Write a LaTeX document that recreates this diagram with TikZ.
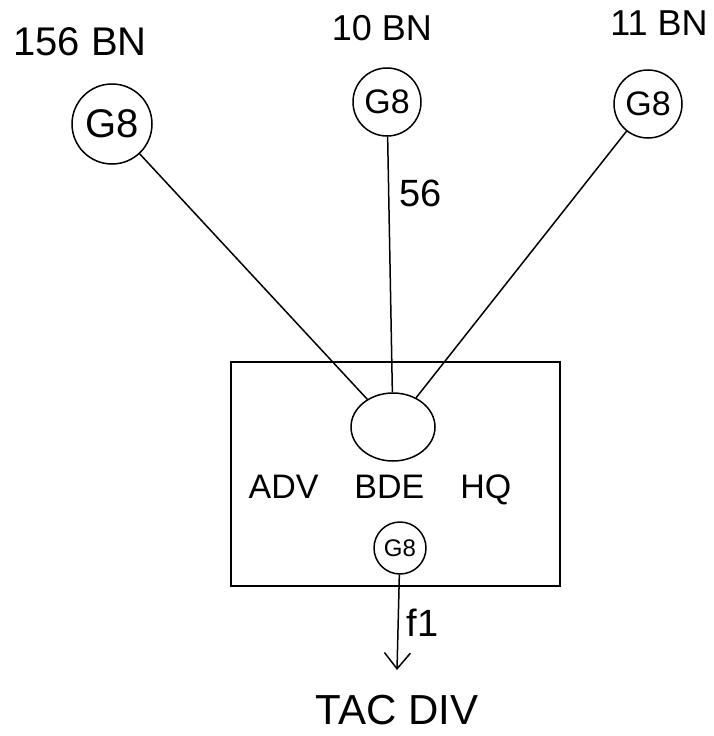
\documentclass[tikz,border=0pt]{standalone}
\usepackage{fontspec}
\setmainfont{Liberation Sans}
\usetikzlibrary{shapes.geometric, arrows.meta, positioning}

\begin{document}
\begin{tikzpicture}[
        x=1pt, y=-1pt,
        line width=1.5pt,
        unit/.style={circle, draw, inner sep=0pt, font=\fontsize{34}{34}\selectfont},
        hq/.style={ellipse, draw, minimum width=84pt, minimum height=68pt},
        lbl/.style={inner sep=0pt, font=\fontsize{38}{38}\selectfont},
        frame/.style={draw, rectangle, minimum width=329pt, minimum height=224pt},
        flow/.style={-{Straight Barb[length=16pt,width=26pt]}}
    ]
    \useasboundingbox (0,0) rectangle (714,736);

    % battalions
    \node[lbl, font=\fontsize{40}{40}\selectfont] (lbl156) at (80,42) {156 BN};
    \node[lbl, font=\fontsize{36}{36}\selectfont] (lbl10) at (382,28) {10 BN};
    \node[lbl, font=\fontsize{36}{36}\selectfont] (lbl11) at (659,23) {11 BN};
    \node[unit, minimum size=80pt, font=\fontsize{40}{40}\selectfont] (bn156) at (112,124) {G8};
    \node[unit, minimum size=68pt] (bn10) at (387,102) {G8};
    \node[unit, minimum size=68pt] (bn11) at (648,104) {G8};

    % brigade HQ
    \node[frame] (box) at (395.5,474) {};
    \node[hq] (hub) at (393,427) {};
    \node[lbl, font=\fontsize{34}{34}\selectfont] (adv) at (380,490) {ADV\hspace{36pt}BDE\hspace{36pt}HQ};
    \node[unit, minimum size=52pt, font=\fontsize{24}{24}\selectfont] (bde) at (400,548) {G8};
    \coordinate (tip) at (397,670);
    \node[lbl, font=\fontsize{42}{42}\selectfont, below=24pt of tip] (tac) {TAC DIV};

    \draw (bn156) -- (hub);
    \draw (bn10) -- node[lbl, pos=0.22, right=10pt] {56} (hub);
    \draw (bn11) -- (hub);
    \draw[flow] (bde) -- node[lbl, right=8pt] {f1} (tip);

\end{tikzpicture}
\end{document}
